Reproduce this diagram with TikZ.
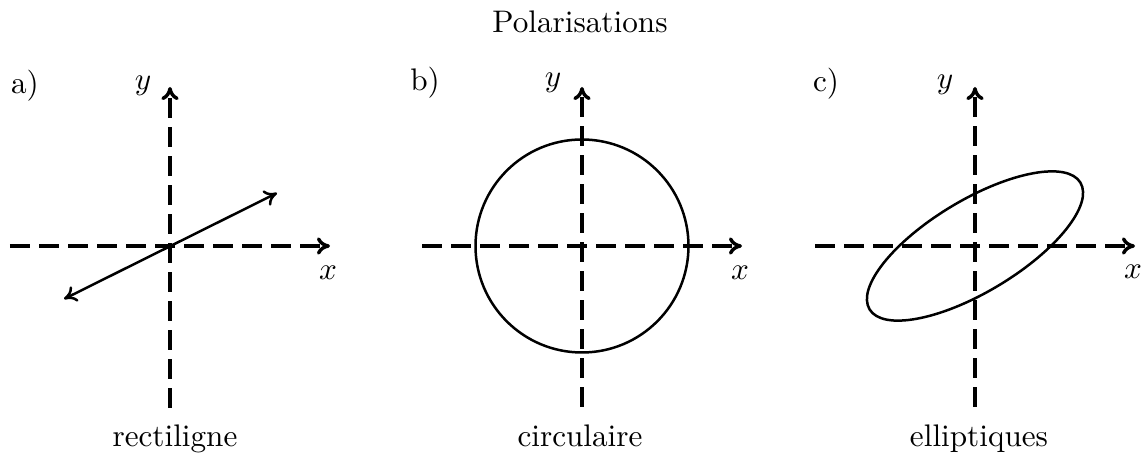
\documentclass[tikz,border=0pt]{standalone}
\usetikzlibrary{arrows.meta}
\begin{document}
\begin{tikzpicture}[x=0.3205pt,y=-0.3205pt,
  tip/.style={-{Computer Modern Rightarrow[length=4.2pt,width=5.6pt]}},
  axis/.style={line width=1.1pt,dash pattern=on 6.5pt off 2.8pt,tip},
  curve/.style={line width=0.8pt},
  lbl/.style={inner sep=0pt,anchor=center},
  captxt/.style={inner sep=0pt,anchor=base},
  every node/.style={inner sep=0pt}]
\useasboundingbox (0,0) rectangle (1145,455);
\node[lbl] (title) at (580,22) {Polarisations};
% ---- panel a
\coordinate (oa) at (170,246);
\coordinate (axl) at (10,246);
\coordinate (axr) at (330,246);
\coordinate (ayb) at (170,408);
\coordinate (ayt) at (170,87);
\draw[axis] (axl) -- (axr);
\draw[axis] (ayb) -- (ayt);
\coordinate (la1) at (64,299);
\coordinate (la2) at (277,193);
\draw[curve,{Computer Modern Rightarrow[length=4pt,width=5.4pt]}-{Computer Modern Rightarrow[length=4pt,width=5.4pt]}] (la1) -- (la2);
\node[lbl] (pa) at (25,86) {a)};
\node[lbl] (ya) at (143,86) {$y$};
\node[lbl] (xa) at (328,273) {$x$};
\node[captxt] (ca) at (175,447) {rectiligne};
% ---- panel b
\coordinate (ob) at (582,246);
\coordinate (bxl) at (422,246);
\coordinate (bxr) at (742,246);
\coordinate (byb) at (582,407);
\coordinate (byt) at (582,87);
\draw[axis] (bxl) -- (bxr);
\draw[axis] (byb) -- (byt);
\draw[curve] (ob) circle[radius=106.5];
\node[lbl] (pb) at (425,83) {b)};
\node[lbl] (yb) at (553,83) {$y$};
\node[lbl] (xb) at (740,273) {$x$};
\node[captxt] (cb) at (580,447) {circulaire};
% ---- panel c
\coordinate (oc) at (975,246);
\coordinate (cxl) at (815,246);
\coordinate (cxr) at (1135,246);
\coordinate (cyb) at (975,407);
\coordinate (cyt) at (975,87);
\draw[axis] (cxl) -- (cxr);
\draw[axis] (cyb) -- (cyt);
\draw[curve,rotate around={31:(oc)}] (oc) ellipse[x radius=123,y radius=46];
\node[lbl] (pc) at (826,84) {c)};
\node[lbl] (yc) at (945,85) {$y$};
\node[lbl] (xc) at (1133,272) {$x$};
\node[captxt] (cc) at (979,447) {elliptiques};
\end{tikzpicture}
\end{document}
